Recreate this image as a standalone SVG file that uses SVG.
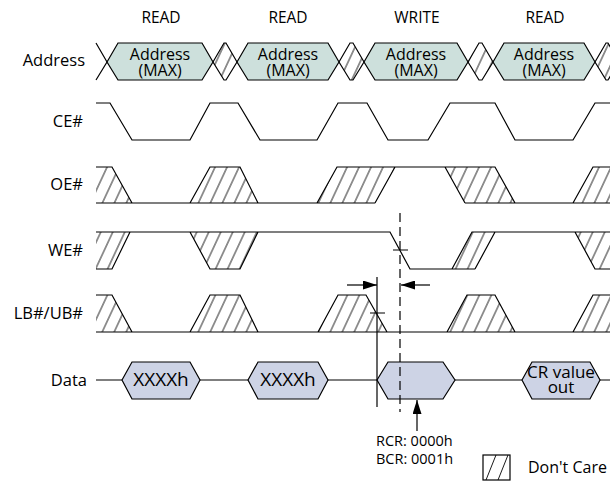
<svg xmlns="http://www.w3.org/2000/svg" width="610" height="485" viewBox="0 0 610 485">
<defs>
<pattern id="hatch" width="12" height="10" patternUnits="userSpaceOnUse" patternTransform="skewX(-25)">
<line x1="5" y1="-1" x2="5" y2="11" stroke="#000" stroke-width="0.9"/>
</pattern>
<marker id="ah" viewBox="0 0 14 9" refX="14" refY="4.5" markerWidth="14" markerHeight="9" markerUnits="userSpaceOnUse" orient="auto">
<path d="M0,0 L14,4.5 L0,9 Z" fill="#000"/>
</marker>
<style>
.w{fill:none;stroke:#000;stroke-width:1.2}
.h{fill:url(#hatch);stroke:none}
.hs{fill:url(#hatch);stroke:#000;stroke-width:1.2;stroke-linejoin:miter}
.addr{fill:#cde0dc;stroke:#000;stroke-width:1.2}
.dat{fill:#cdd3e5;stroke:#000;stroke-width:1.2}
text{font-family:"Open Sans","Noto Sans",sans-serif;fill:#000}
.lbl{font-size:16.5px;text-anchor:end}
.top{font-size:15.5px;text-anchor:middle}
.hx{font-size:16px;text-anchor:middle;line-height:1}
.note{font-size:14.5px}
.dash{fill:none;stroke:#000;stroke-width:1.2;stroke-dasharray:9 5}
.arr{fill:none;stroke:#000;stroke-width:1.2;marker-end:url(#ah)}
</style>
</defs>
<rect width="610" height="485" fill="#fff"/>

<g id="cycle-labels">
<text class="top" x="161" y="23">READ</text>
<text class="top" x="288" y="23">READ</text>
<text class="top" x="417" y="23">WRITE</text>
<text class="top" x="545" y="23">READ</text>
</g>

<g id="address">
<text class="lbl" x="85" y="66">Address</text>
<path class="w" d="M96,43 L107,62 L96,80"/>
<polygon class="hs" points="213,62 224,43 226,43 237,62 226,80 224,80"/>
<polygon class="hs" points="339,62 350,43 353,43 364,62 353,80 350,80"/>
<polygon class="hs" points="468,62 479,43 482,43 493,62 482,80 479,80"/>
<polygon class="hs" points="595,62 606,43 608,43 619,62 608,80 606,80"/>
<polygon class="addr" points="107,62 118,43 202,43 213,62 202,80 118,80"/>
<polygon class="addr" points="237,62 248,43 328,43 339,62 328,80 248,80"/>
<polygon class="addr" points="364,62 375,43 457,43 468,62 457,80 375,80"/>
<polygon class="addr" points="493,62 504,43 584,43 595,62 584,80 504,80"/>
<text class="hx" x="160" y="60">Address<tspan x="160" dy="16">(MAX)</tspan></text>
<text class="hx" x="288" y="60">Address<tspan x="288" dy="16">(MAX)</tspan></text>
<text class="hx" x="416" y="60">Address<tspan x="416" dy="16">(MAX)</tspan></text>
<text class="hx" x="544" y="60">Address<tspan x="544" dy="16">(MAX)</tspan></text>
</g>

<g id="ce">
<text class="lbl" x="83" y="127">CE#</text>
<path class="w" d="M96,103 H110 L132,140 H190 L210,103 H238 L260,140 H317 L338,103 H367 L388,140 H428 L450,103 H495 L515,140 H573 L595,103 H611"/>
</g>

<g id="oe">
<text class="lbl" x="83" y="190">OE#</text>
<polygon class="h" points="96,167 112,167 132,203 96,203"/>
<polygon class="h" points="190,203 210,167 240,167 258,203"/>
<polygon class="h" points="317,203 337,167 395,167 375,203"/>
<polygon class="h" points="445,167 495,167 515,203 465,203"/>
<polygon class="h" points="573,203 593,167 611,167 611,203"/>
<path class="w" d="M96,203 H375 M465,203 H611 M96,167 H112 L132,203 M190,203 L210,167 H240 L258,203 M317,203 L337,167 H495 L515,203 M375,203 L395,167 M445,167 L465,203 M573,203 L593,167 H611"/>
</g>

<g id="we">
<text class="lbl" x="83" y="256">WE#</text>
<polygon class="h" points="96,232 130,232 112,269 96,269"/>
<polygon class="h" points="190,232 258,232 240,269 210,269"/>
<polygon class="h" points="452,269 475,269 495,232 472,232"/>
<polygon class="h" points="575,232 611,232 611,269 595,269"/>
<path class="w" d="M96,232 H390 L410,269 H475 M96,269 H112 L130,232 M190,232 L210,269 H240 L258,232 M452,269 L472,232 H611 M475,269 L495,232 M575,232 L595,269 H611"/>
</g>

<g id="lbub">
<text class="lbl" x="83" y="319">LB#/UB#</text>
<polygon class="h" points="96,295 112,295 132,332 96,332"/>
<polygon class="h" points="190,332 210,295 240,295 258,332"/>
<polygon class="h" points="318,332 338,295 366,295 387,332"/>
<polygon class="h" points="447,332 467,295 495,295 515,332"/>
<polygon class="h" points="573,332 593,295 611,295 611,332"/>
<path class="w" d="M96,332 H611 M96,295 H112 L132,332 M190,332 L210,295 H240 L258,332 M318,332 L338,295 H366 L387,332 M447,332 L467,295 H495 L515,332 M573,332 L593,295 H611"/>
</g>

<g id="data">
<text class="lbl" x="87" y="386">Data</text>
<path class="w" d="M96,380 H122 M200,380 H248 M328,380 H377 M455,380 H522 M600,380 H611"/>
<polygon class="dat" points="122,380 132,362 190,362 200,380 190,399 132,399"/>
<polygon class="dat" points="248,380 258,362 318,362 328,380 318,399 258,399"/>
<polygon class="dat" points="377,380 388,362 443,362 455,380 443,399 388,399"/>
<polygon class="dat" points="522,380 532,362 590,362 600,380 590,399 532,399"/>
<text class="hx" x="161" y="386" style="font-size:19px">XXXXh</text>
<text class="hx" x="288" y="386" style="font-size:19px">XXXXh</text>
<text class="hx" x="561" y="378" style="font-size:17px">CR value<tspan x="561" dy="15">out</tspan></text>
</g>

<g id="connectors">
<path class="dash" d="M400,213 V412"/>
<path class="w" d="M377,277 V407"/>
<path class="w" d="M393,250 H408 M370,313 H385"/>
<path class="arr" d="M347,285 H377"/>
<path class="arr" d="M430,285 H401"/>
<path class="arr" d="M417,431 V400"/>
</g>

<g id="notes">
<text class="note" x="376" y="446">RCR: 0000h</text>
<text class="note" x="376" y="464">BCR: 0001h</text>
</g>

<g id="legend">
<rect x="483" y="455" width="27" height="25" fill="#fff" stroke="#000" stroke-width="1.2"/>
<path class="w" d="M486,480 L496,455 M498,480 L508,455" style="stroke-width:0.9"/>
<text x="528" y="473" style="font-size:16px">Don't Care</text>
</g>
</svg>
